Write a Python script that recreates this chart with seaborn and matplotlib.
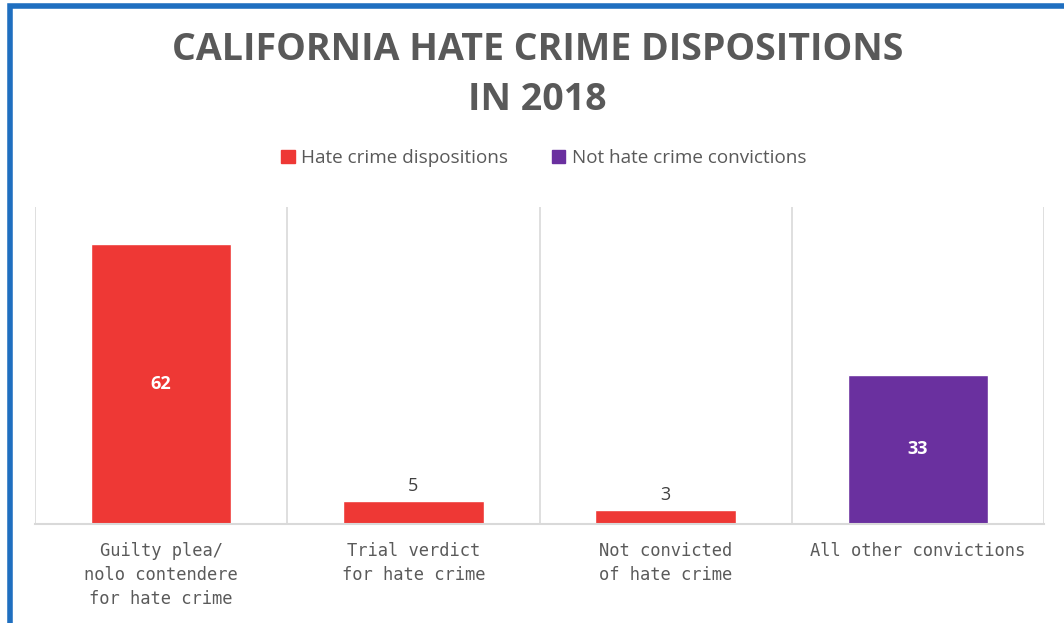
import matplotlib
matplotlib.use("Agg")
import matplotlib.pyplot as plt
import matplotlib.patches as mpatches
import seaborn as sns
import pandas as pd

# chart data
categories = ["Guilty plea/\nnolo contendere\nfor hate crime",
              "Trial verdict\nfor hate crime",
              "Not convicted\nof hate crime",
              "All other convictions"]
values = [62, 5, 3, 33]
groups = ["Hate crime dispositions", "Hate crime dispositions",
          "Hate crime dispositions", "Not hate crime convictions"]

colors = {"Hate crime dispositions": "#ee3835",
          "Not hate crime convictions": "#6a309f"}

sns.set_theme(style="white")
plt.rcParams['font.family'] = ['Open Sans', 'DejaVu Sans']

df = pd.DataFrame({'category': categories, 'value': values, 'group': groups})

fig = plt.figure(figsize=(10.64, 6.23), dpi=100)
ax = fig.add_axes([35/1064, 1 - 524/623, (1044 - 35)/1064, (524 - 207)/623])

sns.barplot(data=df, x='category', y='value', hue='group', palette=colors,
            dodge=False, width=0.556, saturation=1, ax=ax, legend=False)

ax.set_xlim(-0.5, 3.5)
ax.set_ylim(0, 70.2)
ax.set_yticks([])
ax.set_xlabel('')
ax.set_ylabel('')
for s in ['top', 'left', 'right']:
    ax.spines[s].set_visible(False)
ax.spines['bottom'].set_color('#d9d9d9')
ax.spines['bottom'].set_linewidth(1.5)
for xv in [-0.5, 0.5, 1.5, 2.5, 3.5]:
    ax.axvline(xv, color='#d9d9d9', lw=1.2, zorder=0)

# wide, evenly spaced letters like the original's tracked labels
ax.tick_params(axis='x', length=0, pad=13, labelcolor='#5a5a5a')
for lbl in ax.get_xticklabels():
    lbl.set_family('DejaVu Sans Mono')
    lbl.set_fontsize(12.3)
    lbl.set_linespacing(1.42)

# value labels
for i, v in enumerate(values):
    if v > 10:
        ax.text(i, v / 2, str(v), ha='center', va='center', color='white',
                fontsize=13, fontweight='bold')
    else:
        ax.text(i, v + 1.4, str(v), ha='center', va='bottom', color='#404040',
                fontsize=13)

fig.text(0.505, 1 - 75/623, "CALIFORNIA HATE CRIME DISPOSITIONS\nIN 2018",
         ha='center', va='center', fontsize=27, fontweight='bold',
         color='#595959', linespacing=1.38)

handles = [mpatches.Patch(color=c, label=k) for k, c in colors.items()]
fig.legend(handles=handles, loc='center', bbox_to_anchor=(0.511, 1 - 158/623),
           ncol=2, frameon=False, fontsize=13.6, handlelength=0.7,
           handleheight=0.7, handletextpad=0.35, columnspacing=2.3,
           labelcolor='#595959')

# blue frame
fig.add_artist(mpatches.Rectangle((9.5/1064, -0.05), 1.2, 1.05 - 6.5/623,
                                  transform=fig.transFigure, fill=False,
                                  edgecolor='#1f6fc0', lw=4))

fig.savefig("out.png", dpi=100)
